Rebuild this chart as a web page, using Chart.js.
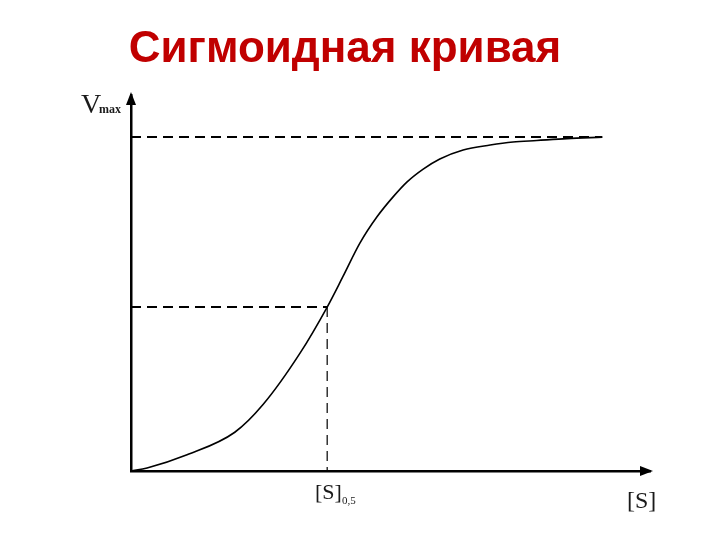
<!DOCTYPE html>
<html>
<head>
<meta charset="utf-8">
<script src="https://cdn.jsdelivr.net/npm/chart.js@4.4.0/dist/chart.umd.min.js"></script>
<style>
  html, body { margin: 0; padding: 0; background: #fff; }
  #wrap { width: 720px; height: 540px; position: relative; }
</style>
</head>
<body>
<div id="wrap"><canvas id="sigmoid"></canvas></div>
<script>
// Кривая (условные единицы: ось [S] 0..100, ось V 0..100)
const substrate = [0, 3.1, 10.8, 20.0, 25.4, 32.6, 37.8, 40.8, 44.1, 47.4, 50.5, 53.2, 56.3, 59.5, 64.0, 69.2, 73.6, 78.2, 84.0, 90.8];
const velocity  = [0, 0.8, 4.3, 10.3, 17.6, 31.4, 43.6, 51.6, 60.6, 67.6, 72.9, 76.9, 80.3, 83.0, 85.4, 86.7, 87.5, 87.9, 88.4, 88.8];

// Уровни
const vMax = 88.8;
const vHalf = 43.6;
const sHalf = 37.8;
const sEnd = 90.8;

const titleText = 'Сигмоидная кривая';

const toPoints = (xs, ys) => xs.map((x, i) => ({ x: x, y: ys[i] }));

// подписи и стрелки осей
const decorPlugin = {
    id: 'decor',
    afterDraw(chart) {
        const ctx = chart.ctx;
        const a = chart.chartArea;
        ctx.save();

        // стрелки
        ctx.fillStyle = '#000';
        ctx.beginPath();
        ctx.moveTo(a.left, a.top - 3);
        ctx.lineTo(a.left - 5, a.top + 10);
        ctx.lineTo(a.left + 5, a.top + 10);
        ctx.closePath();
        ctx.fill();
        ctx.beginPath();
        ctx.moveTo(a.right + 3, a.bottom);
        ctx.lineTo(a.right - 10, a.bottom - 5);
        ctx.lineTo(a.right - 10, a.bottom + 5);
        ctx.closePath();
        ctx.fill();

        // заголовок
        ctx.fillStyle = '#c00000';
        ctx.font = 'bold 44px "Liberation Sans", Arial, sans-serif';
        ctx.textAlign = 'center';
        ctx.textBaseline = 'alphabetic';
        ctx.fillText(titleText, 345, 62);

        // подписи осей
        ctx.fillStyle = '#1a1a1a';
        ctx.textAlign = 'left';
        ctx.font = '28px "Liberation Serif", "Times New Roman", serif';
        ctx.fillText('V', 81, 113);
        ctx.font = 'bold 12px "Liberation Serif", "Times New Roman", serif';
        ctx.fillText('max', 99, 113);

        ctx.font = '22px "Liberation Serif", "Times New Roman", serif';
        ctx.fillText('[S]', 315, 499);
        ctx.font = '11px "Liberation Serif", "Times New Roman", serif';
        ctx.fillText('0,5', 342, 504);

        ctx.font = '24px "Liberation Serif", "Times New Roman", serif';
        ctx.fillText('[S]', 627, 508);
        ctx.restore();
    }
};

new Chart(document.getElementById('sigmoid'), {
    type: 'line',
    data: {
        datasets: [
            {
                data: toPoints(substrate, velocity),
                borderColor: '#000',
                borderWidth: 1.6,
                pointRadius: 0,
                cubicInterpolationMode: 'monotone',
                fill: false
            },
            {
                data: [{ x: 0, y: vMax }, { x: sEnd, y: vMax }],
                borderColor: '#000',
                borderWidth: 2,
                borderDash: [10, 6],
                pointRadius: 0
            },
            {
                data: [{ x: 0, y: vHalf }, { x: sHalf, y: vHalf }],
                borderColor: '#000',
                borderWidth: 2,
                borderDash: [10, 6],
                pointRadius: 0
            },
            {
                data: [{ x: sHalf, y: vHalf }, { x: sHalf, y: 0 }],
                borderColor: '#000',
                borderWidth: 1.2,
                borderDash: [10, 6],
                pointRadius: 0
            }
        ]
    },
    options: {
        responsive: true,
        maintainAspectRatio: false,
        animation: false,
        layout: { padding: { left: 131, right: 70, top: 95, bottom: 69 } },
        scales: {
            x: {
                type: 'linear',
                min: 0,
                max: 100,
                ticks: { display: false },
                grid: { display: false, drawTicks: false },
                border: { display: true, color: '#000', width: 2.5 }
            },
            y: {
                type: 'linear',
                min: 0,
                max: 100,
                ticks: { display: false },
                grid: { display: false, drawTicks: false },
                border: { display: true, color: '#000', width: 2.5 }
            }
        },
        plugins: {
            legend: { display: false },
            tooltip: { enabled: false },
            title: { display: false }
        }
    },
    plugins: [decorPlugin]
});
</script>
</body>
</html>
